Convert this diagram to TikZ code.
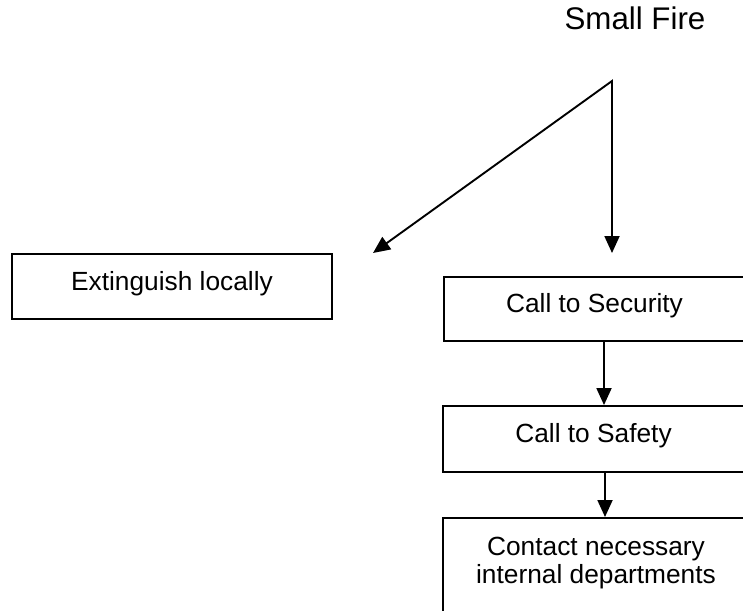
\documentclass[tikz,border=0pt]{standalone}
\usepackage{fontspec}
\setmainfont{Liberation Sans}
\usetikzlibrary{arrows.meta}
\begin{document}
\begin{tikzpicture}[x=1pt,y=-1pt,
  line width=1.9pt,
  boxtext/.style={font=\fontsize{26.3}{28}\selectfont},
  flowbox/.style={draw, rectangle, boxtext, inner sep=0pt, text height=19pt, text depth=12pt, minimum height=64pt},
  arr/.style={-{Triangle[length=17pt,width=15pt]}},
  dblarr/.style={{Triangle[length=17pt,width=15pt]}-{Triangle[length=17pt,width=15pt]}}
]
\useasboundingbox (0,0) rectangle (743,610);
\node[anchor=base, font=\fontsize{31.3}{34}\selectfont] (fire) at (635,30) {Small Fire};
\coordinate (apex) at (612,81);
\coordinate (lend) at (373,253);
\coordinate (dend) at (612,253);
\coordinate (c1) at (604,0);
\coordinate (c2) at (605,0);
\node[flowbox, minimum width=320pt, minimum height=65pt] (ext) at (172,286.5) {Extinguish locally};
\node[flowbox, minimum width=301pt] (sec) at (594.5,309) {Call to Security};
\node[flowbox, minimum width=301pt, minimum height=66pt] (saf) at (593.5,439) {Call to Safety};
\node[draw, rectangle, boxtext, inner sep=0pt, anchor=north, minimum width=306pt, text height=38pt, text depth=100pt] (con) at (596,517)
  {\begin{tabular}[t]{@{}c@{}}Contact necessary\\internal departments\end{tabular}};
\draw[dblarr, line join=miter] (lend) -- (apex) -- (dend);
\draw[arr] (sec.south -| c1) -- (saf.north -| c1);
\draw[arr] (saf.south -| c2) -- (con.north -| c2);
\end{tikzpicture}
\end{document}
